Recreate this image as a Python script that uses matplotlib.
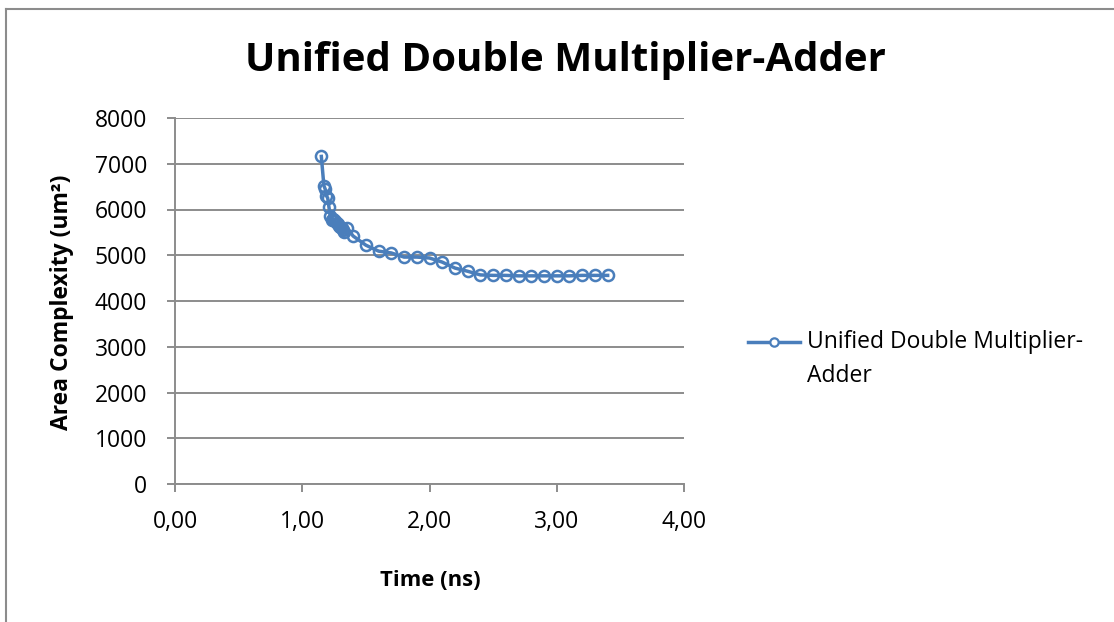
import matplotlib
matplotlib.use("Agg")
import matplotlib.pyplot as plt
from matplotlib.lines import Line2D
from matplotlib.ticker import FixedLocator

# Delay vs. area sweep of the unified double multiplier-adder
time_ns = [1.15, 1.17, 1.18, 1.19, 1.20, 1.21, 1.22, 1.23, 1.24, 1.25,
           1.26, 1.27, 1.28, 1.29, 1.30, 1.31, 1.32, 1.33, 1.35, 1.40,
           1.50, 1.60, 1.70, 1.80, 1.90, 2.00, 2.10, 2.20, 2.30, 2.40,
           2.50, 2.60, 2.70, 2.80, 2.90, 3.00, 3.10, 3.20, 3.30, 3.40]
area_um2 = [7160, 6520, 6450, 6300, 6250, 6050, 5850, 5780, 5800, 5760,
            5740, 5700, 5680, 5650, 5620, 5600, 5560, 5500, 5600, 5420,
            5220, 5090, 5050, 4960, 4960, 4940, 4850, 4720, 4650, 4570,
            4560, 4560, 4550, 4550, 4550, 4550, 4550, 4560, 4560, 4560]

series_name = "Unified Double Multiplier-\nAdder"
title_text = "Unified Double Multiplier-Adder"
x_label = "Time (ns)"
y_label = "Area Complexity (um²)"
x_ticks = [0, 1, 2, 3, 4]
x_tick_labels = ["0,00", "1,00", "2,00", "3,00", "4,00"]
y_ticks = [0, 1000, 2000, 3000, 4000, 5000, 6000, 7000, 8000]

plt.rcParams["font.family"] = ["Open Sans", "DejaVu Sans"]

fig = plt.figure(figsize=(11.14, 6.22), dpi=100)
W, H = 1114, 622
frame_grey = "#8c8c8c"

# chart frame (left and top edges only; the rest runs off the canvas)
fig.add_artist(Line2D([5.5 / W, 5.5 / W], [-0.05, 1 - 8.5 / H],
                      color=frame_grey, linewidth=1.5, clip_on=False))
fig.add_artist(Line2D([5.5 / W, 1.05], [1 - 8.5 / H, 1 - 8.5 / H],
                      color=frame_grey, linewidth=1.5, clip_on=False))

ax = fig.add_axes([175 / W, 1 - 484 / H, (684 - 175) / W, (484 - 118) / H])

blue = "#4a7ebb"
line, = ax.plot(time_ns, area_um2, color=blue, linewidth=2.5,
                marker="o", markersize=8, markerfacecolor="none",
                markeredgecolor=blue, markeredgewidth=1.8,
                label=series_name)

ax.set_xlim(0, 4)
ax.set_ylim(0, 8000)
ax.xaxis.set_major_locator(FixedLocator(x_ticks))
ax.set_xticklabels(x_tick_labels)
ax.yaxis.set_major_locator(FixedLocator(y_ticks))
ax.set_yticklabels([str(v) for v in y_ticks])

ax.grid(axis="y", color=frame_grey, linewidth=1.4)
ax.set_axisbelow(True)
for s in ("top", "right"):
    ax.spines[s].set_visible(False)
for s in ("left", "bottom"):
    ax.spines[s].set_color(frame_grey)
    ax.spines[s].set_linewidth(1.4)
ax.tick_params(axis="both", colors=frame_grey, width=1.4, length=6,
               labelcolor="black", labelsize=16.5)
ax.tick_params(axis="x", pad=13)
ax.tick_params(axis="y", pad=14)

fig.text(565 / W, 1 - 60 / H, title_text, ha="center", va="center",
         fontsize=29, fontweight="bold")
fig.text(430 / W, 1 - 580 / H, x_label, ha="center", va="center",
         fontsize=15.8, fontweight="bold")
fig.text(62 / W, 1 - 302 / H, y_label, ha="center", va="center",
         rotation=90, fontsize=16.5, fontweight="bold")

# legend: series swatch next to a two-line label
ly = 1 - 342 / H
fig.add_artist(Line2D([748 / W, 800 / W], [ly, ly], color=blue,
                      linewidth=2.5))
fig.add_artist(Line2D([774 / W], [ly], marker="o", markersize=6,
                      markerfacecolor="white", markeredgecolor=blue,
                      markeredgewidth=1.6, linestyle="none"))
fig.text(807 / W, 1 - 330 / H, series_name, ha="left", va="top",
         fontsize=16.5, linespacing=1.55)

fig.savefig("out.png", dpi=100)
